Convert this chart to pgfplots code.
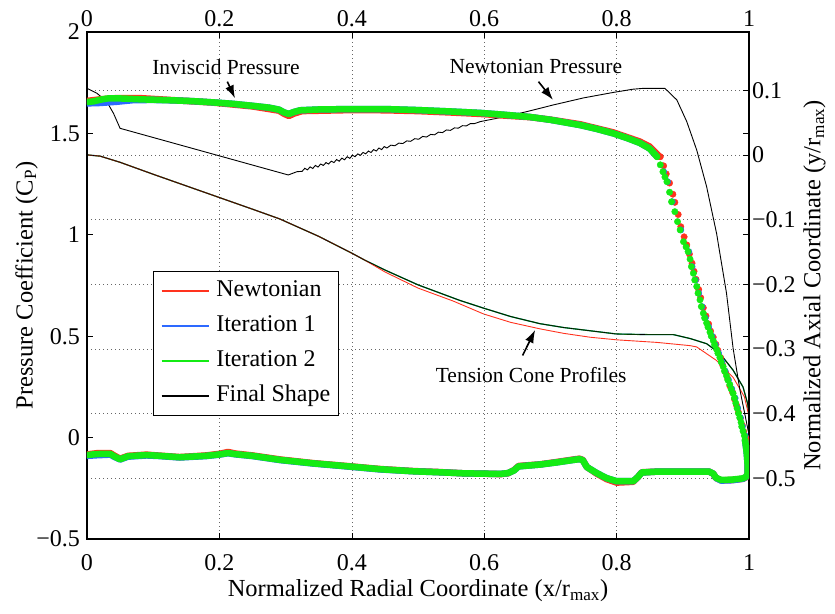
\documentclass[border=0pt]{standalone}
\usepackage{fontspec}
\setmainfont{Liberation Serif}
\usepackage{pgfplots}
\pgfplotsset{compat=1.18}
\usetikzlibrary{arrows.meta}

\definecolor{newt}{RGB}{255,50,30}
\definecolor{itone}{RGB}{45,105,255}
\definecolor{ittwo}{RGB}{20,235,20}

\pgfplotsset{
  common/.style={
    scale only axis, width=662pt, height=507pt,
    xmin=0, xmax=1,
    xtick={0,0.2,0.4,0.6,0.8,1}, xticklabels={0,0.2,0.4,0.6,0.8,1},
    tick align=inside, major tick length=6pt,
    tick style={black, line width=0.6pt},
    axis line style={line width=1.2pt},
    ticklabel style={font=\fontsize{24}{24}\selectfont, inner sep=0pt},
    label style={font=\fontsize{24.5}{26}\selectfont},
    grid style={black!60, line width=0.6pt, dash pattern=on 0.6pt off 3.4pt},
  },
  band/.style={no markers, line width=6.5pt, line join=round, line cap=round, forget plot},
  dots/.style={only marks, mark=*, mark size=3.2pt, mark options={draw=none}, forget plot},
}
\tikzset{
  annot/.style={font=\fontsize{21.5}{22}\selectfont},
  pointer/.style={line width=1.6pt, -{Latex[length=13pt,width=9pt]}},
}

\begin{document}
\begin{tikzpicture}
\useasboundingbox (-87pt,-74pt) rectangle (748pt,539pt);

% ---------- axial coordinate axis: tension cone profiles ----------
\begin{axis}[common,
  ymin=-0.594, ymax=0.19,
  axis x line*=top, axis y line*=right,
  ytick={-0.5,-0.4,-0.3,-0.2,-0.1,0,0.1},
  yticklabels={−0.5,−0.4,−0.3,−0.2,−0.1,0,0.1},
  ymajorgrids,
  yticklabel style={anchor=west, xshift=3pt},
  xticklabel style={anchor=base, yshift=5pt},
  ylabel={Normalized Axial Coordinate (y/r\textsubscript{max})},
  ylabel style={at={(axis description cs:1.099,0.5)}, anchor=center},
]
% Iteration 1
\addplot[itone, line width=1.1pt, forget plot] coordinates {
(0.000,0.000) (0.020,-0.002) (0.050,-0.0115) (0.100,-0.030) (0.150,-0.048)
(0.200,-0.066) (0.250,-0.084) (0.291,-0.099) (0.350,-0.126) (0.400,-0.152)
(0.420,-0.163) (0.450,-0.178) (0.500,-0.201) (0.563,-0.225) (0.599,-0.237)
(0.640,-0.250) (0.684,-0.261) (0.720,-0.267) (0.760,-0.272) (0.800,-0.277)
(0.850,-0.278) (0.886,-0.278) (0.911,-0.284) (0.936,-0.292) (0.956,-0.307)
(0.976,-0.333) (0.991,-0.359) (0.998,-0.385) (1.000,-0.405)};
% Iteration 2
\addplot[ittwo!70!black, line width=1.2pt, forget plot] coordinates {
(0.000,0.000) (0.020,-0.002) (0.050,-0.0115) (0.100,-0.030) (0.150,-0.048)
(0.200,-0.066) (0.250,-0.084) (0.291,-0.099) (0.350,-0.126) (0.400,-0.152)
(0.420,-0.163) (0.450,-0.178) (0.500,-0.201) (0.563,-0.225) (0.599,-0.237)
(0.640,-0.250) (0.684,-0.261) (0.720,-0.267) (0.760,-0.272) (0.800,-0.277)
(0.850,-0.278) (0.886,-0.278) (0.911,-0.284) (0.936,-0.292) (0.956,-0.307)
(0.976,-0.333) (0.991,-0.359) (0.998,-0.385) (1.000,-0.405)};
% Newtonian
\addplot[newt, line width=0.9pt, forget plot] coordinates {
(0.000,0.000) (0.020,-0.002) (0.050,-0.0115) (0.100,-0.030) (0.150,-0.048)
(0.200,-0.066) (0.250,-0.084) (0.291,-0.099) (0.350,-0.126) (0.400,-0.152)
(0.420,-0.163) (0.450,-0.181) (0.500,-0.206) (0.553,-0.226) (0.599,-0.246)
(0.640,-0.259) (0.684,-0.269) (0.720,-0.276) (0.760,-0.282) (0.800,-0.286)
(0.861,-0.290) (0.911,-0.295) (0.921,-0.297) (0.951,-0.318) (0.976,-0.344)
(0.993,-0.374) (0.999,-0.400) (1.000,-0.410)};
% Final shape
\addplot[black, line width=0.6pt, forget plot] coordinates {
(0.000,0.000) (0.020,-0.002) (0.050,-0.0115) (0.100,-0.030) (0.150,-0.048)
(0.200,-0.066) (0.250,-0.084) (0.291,-0.099) (0.350,-0.126) (0.400,-0.152)
(0.420,-0.163) (0.450,-0.178) (0.500,-0.201) (0.563,-0.225) (0.599,-0.237)
(0.640,-0.250) (0.684,-0.261) (0.720,-0.267) (0.760,-0.272) (0.800,-0.277)
(0.850,-0.278) (0.886,-0.278) (0.911,-0.284) (0.936,-0.292) (0.956,-0.307)
(0.976,-0.333) (0.991,-0.359) (0.998,-0.385) (1.000,-0.405)};
\end{axis}

% ---------- pressure coefficient axis ----------
\begin{axis}[common,
  ymin=-0.5, ymax=2,
  ytick={-0.5,0,0.5,1,1.5,2}, yticklabels={−0.5,0,0.5,1,1.5,2},
  xmajorgrids,
  yticklabel style={anchor=east, xshift=-7pt},
  xticklabel style={anchor=base, yshift=-31pt},
  xlabel={Normalized Radial Coordinate (x/r\textsubscript{max})},
  xlabel style={at={(axis description cs:0.5,-0.1144)}, anchor=base},
  ylabel={Pressure Coefficient (C\textsubscript{P})},
  ylabel style={at={(axis description cs:-0.0914,0.5)}, anchor=center},
  legend style={at={(0.0992,0.5286)}, anchor=north west, draw=black,
    line width=0.8pt, fill=white, inner xsep=8pt, inner ysep=8pt,
    font=\fontsize{24}{24}\selectfont, row sep=12pt,
    nodes={inner sep=0pt, text height=17pt, text depth=6pt},
    /tikz/every odd column/.append style={column sep=7pt}},
  legend cell align=left,
  legend image code/.code={\draw[#1, line width=1.2pt] (0pt,0pt) -- (47pt,0pt);},
]
\addlegendimage{newt}\addlegendentry{Newtonian}
\addlegendimage{itone}\addlegendentry{Iteration 1}
\addlegendimage{ittwo}\addlegendentry{Iteration 2}
\addlegendimage{black}\addlegendentry{Final Shape}

% Newtonian pressure distribution
\addplot[black, line width=0.9pt, forget plot] coordinates {
(0.000,1.722) (0.015,1.698) (0.030,1.656) (0.040,1.599) (0.050,1.525)
(0.304,1.295) (0.317,1.311)
(0.325,1.313) (0.329,1.328) (0.333,1.320) (0.337,1.335) (0.341,1.327)
(0.345,1.342) (0.349,1.334) (0.353,1.349) (0.357,1.342) (0.361,1.356)
(0.365,1.349) (0.369,1.363) (0.373,1.356) (0.377,1.371) (0.381,1.363)
(0.385,1.378) (0.389,1.370) (0.393,1.385) (0.397,1.377) (0.401,1.392)
(0.405,1.385) (0.409,1.399) (0.413,1.392) (0.417,1.406) (0.421,1.399)
(0.425,1.413) (0.429,1.406) (0.433,1.420) (0.437,1.413) (0.441,1.428)
(0.445,1.420) (0.449,1.435) (0.453,1.428) (0.459,1.442) (0.465,1.439)
(0.471,1.452) (0.477,1.450) (0.483,1.463) (0.489,1.461) (0.495,1.474)
(0.501,1.471) (0.507,1.485) (0.513,1.482) (0.519,1.495) (0.525,1.493)
(0.531,1.506) (0.537,1.504) (0.543,1.517) (0.549,1.515) (0.555,1.527)
(0.561,1.526) (0.567,1.538) (0.573,1.537) (0.579,1.548) (0.585,1.548)
(0.594,1.558) (0.620,1.575) (0.664,1.607) (0.704,1.640) (0.750,1.675)
(0.795,1.702) (0.825,1.718) (0.840,1.722) (0.873,1.722) (0.891,1.665)
(0.906,1.558) (0.921,1.418) (0.936,1.237) (0.951,1.007) (0.966,0.712)
(0.976,0.440) (0.986,0.240) (0.999,0.030)};

% ---- Newtonian (red) ----
\addplot[newt, band] coordinates {
(0.000,1.660) (0.020,1.668) (0.045,1.674) (0.080,1.674) (0.100,1.670)
(0.130,1.664) (0.190,1.652) (0.250,1.633) (0.290,1.612) (0.298,1.596)
(0.305,1.586) (0.313,1.598) (0.325,1.610) (0.400,1.615) (0.450,1.614)
(0.500,1.610) (0.550,1.603) (0.594,1.596) (0.630,1.588) (0.669,1.580)
(0.700,1.568) (0.745,1.545) (0.795,1.505) (0.835,1.460) (0.850,1.435)
(0.865,1.385)};
\addplot[newt, dots] coordinates {
(0.866,1.385) (0.871,1.340) (0.875,1.300) (0.880,1.255) (0.885,1.200)
(0.888,1.160) (0.893,1.100) (0.897,1.040) (0.902,0.990) (0.906,0.950)
(0.910,0.905) (0.914,0.860) (0.917,0.820) (0.920,0.780) (0.924,0.730)
(0.927,0.690) (0.931,0.640) (0.935,0.600) (0.939,0.560) (0.942,0.525)
(0.946,0.495) (0.950,0.460) (0.953,0.430) (0.957,0.395) (0.960,0.360)
(0.964,0.325) (0.968,0.290) (0.971,0.255) (0.975,0.225) (0.978,0.190)
(0.981,0.160) (0.984,0.125) (0.987,0.095) (0.990,0.060) (0.992,0.030)
(0.995,0.000)};
\addplot[newt, band] coordinates {
(0.995,0.000) (0.997,-0.060) (0.998,-0.100) (0.998,-0.150) (0.998,-0.180)
(0.996,-0.195) (0.991,-0.203) (0.975,-0.209) (0.958,-0.211) (0.950,-0.199)
(0.946,-0.178) (0.940,-0.168) (0.900,-0.168) (0.860,-0.168) (0.838,-0.171)
(0.832,-0.195) (0.825,-0.218) (0.800,-0.222) (0.785,-0.205) (0.770,-0.178)
(0.755,-0.145) (0.749,-0.110) (0.744,-0.104) (0.735,-0.108) (0.710,-0.120)
(0.684,-0.132) (0.652,-0.140) (0.645,-0.160) (0.636,-0.176) (0.625,-0.180)
(0.600,-0.178) (0.568,-0.176) (0.533,-0.170) (0.493,-0.165) (0.443,-0.155)
(0.392,-0.140) (0.342,-0.126) (0.292,-0.108) (0.250,-0.088) (0.225,-0.079)
(0.213,-0.071) (0.200,-0.080) (0.180,-0.088) (0.140,-0.096) (0.110,-0.089)
(0.090,-0.084) (0.062,-0.090) (0.050,-0.104) (0.042,-0.090) (0.035,-0.076)
(0.015,-0.077) (0.000,-0.083)};

% ---- Iteration 1 (blue) ----
\addplot[itone, band] coordinates {
(0.000,1.648) (0.020,1.650) (0.045,1.656) (0.070,1.664) (0.100,1.665)
(0.130,1.663) (0.160,1.659) (0.190,1.653) (0.220,1.646) (0.250,1.636)
(0.275,1.627) (0.290,1.617) (0.298,1.603) (0.305,1.596) (0.312,1.605)
(0.322,1.614) (0.350,1.618) (0.400,1.620) (0.450,1.620) (0.500,1.615)
(0.550,1.608) (0.594,1.601) (0.630,1.592) (0.669,1.581) (0.700,1.567)
(0.745,1.541) (0.770,1.522) (0.795,1.500) (0.815,1.478) (0.835,1.453)
(0.850,1.425) (0.861,1.385)};
\addplot[itone, dots] coordinates {
(0.871,1.311) (0.877,1.262) (0.884,1.163) (0.897,1.024) (0.909,0.917)
(0.914,0.843) (0.919,0.777) (0.924,0.712) (0.929,0.646) (0.934,0.590)
(0.939,0.545) (0.944,0.500) (0.949,0.458) (0.954,0.416) (0.959,0.373)
(0.964,0.328) (0.969,0.284) (0.974,0.240) (0.979,0.195) (0.983,0.145)
(0.987,0.098) (0.990,0.054) (0.994,0.010)};
\addplot[itone, band] coordinates {
(0.994,-0.012) (0.996,-0.060) (0.997,-0.094) (0.998,-0.140) (0.998,-0.176)
(0.996,-0.193) (0.991,-0.203) (0.975,-0.210) (0.958,-0.212) (0.950,-0.199)
(0.946,-0.178) (0.940,-0.168) (0.900,-0.168) (0.860,-0.168) (0.838,-0.172)
(0.832,-0.195) (0.825,-0.215) (0.800,-0.215) (0.785,-0.200) (0.770,-0.175)
(0.755,-0.145) (0.749,-0.112) (0.744,-0.106) (0.735,-0.110) (0.710,-0.122)
(0.684,-0.133) (0.652,-0.142) (0.645,-0.162) (0.636,-0.175) (0.625,-0.179)
(0.600,-0.178) (0.568,-0.176) (0.533,-0.171) (0.493,-0.166) (0.443,-0.157)
(0.392,-0.142) (0.342,-0.128) (0.292,-0.111) (0.250,-0.091) (0.225,-0.083)
(0.213,-0.077) (0.200,-0.084) (0.180,-0.091) (0.140,-0.098) (0.110,-0.091)
(0.090,-0.088) (0.062,-0.094) (0.050,-0.108) (0.042,-0.096) (0.035,-0.084)
(0.015,-0.087) (0.000,-0.090)};

% ---- Iteration 2 (green) ----
\addplot[ittwo, band] coordinates {
(0.000,1.655) (0.010,1.658) (0.020,1.666) (0.030,1.672) (0.045,1.673)
(0.060,1.671) (0.080,1.668) (0.100,1.666) (0.130,1.663) (0.160,1.659)
(0.190,1.653) (0.220,1.646) (0.250,1.636) (0.275,1.627) (0.290,1.617)
(0.298,1.603) (0.305,1.596) (0.312,1.605) (0.322,1.614) (0.350,1.618)
(0.400,1.620) (0.450,1.620) (0.500,1.615) (0.550,1.608) (0.594,1.601)
(0.630,1.592) (0.669,1.581) (0.700,1.567) (0.745,1.541) (0.770,1.522)
(0.795,1.500) (0.815,1.478) (0.835,1.453) (0.850,1.425) (0.861,1.385)};
\addplot[ittwo, dots] coordinates {
(0.861,1.385) (0.866,1.345) (0.870,1.311) (0.873,1.285) (0.876,1.262)
(0.880,1.210) (0.883,1.163) (0.888,1.114) (0.892,1.065) (0.896,1.024)
(0.901,0.966) (0.905,0.940) (0.908,0.917) (0.911,0.880) (0.913,0.843)
(0.916,0.810) (0.918,0.777) (0.921,0.745) (0.923,0.712) (0.926,0.679)
(0.928,0.646) (0.931,0.613) (0.933,0.590) (0.936,0.565) (0.938,0.545)
(0.941,0.520) (0.943,0.500) (0.946,0.478) (0.948,0.458) (0.951,0.435)
(0.953,0.416) (0.956,0.395) (0.958,0.373) (0.961,0.350) (0.963,0.328)
(0.966,0.305) (0.968,0.284) (0.971,0.262) (0.973,0.240) (0.976,0.218)
(0.978,0.195) (0.980,0.170) (0.982,0.145) (0.984,0.120) (0.986,0.098)
(0.988,0.075) (0.989,0.054) (0.991,0.032) (0.993,0.010) (0.994,-0.012)};
\addplot[ittwo, band] coordinates {
(0.994,-0.012) (0.996,-0.060) (0.997,-0.094) (0.998,-0.140) (0.998,-0.176)
(0.996,-0.192) (0.991,-0.201) (0.975,-0.207) (0.958,-0.209) (0.950,-0.198)
(0.946,-0.178) (0.940,-0.168) (0.900,-0.168) (0.860,-0.168) (0.838,-0.172)
(0.832,-0.195) (0.825,-0.215) (0.800,-0.215) (0.785,-0.200) (0.770,-0.175)
(0.755,-0.145) (0.749,-0.112) (0.744,-0.106) (0.735,-0.110) (0.710,-0.122)
(0.684,-0.133) (0.652,-0.142) (0.645,-0.162) (0.636,-0.175) (0.625,-0.179)
(0.600,-0.178) (0.568,-0.176) (0.533,-0.171) (0.493,-0.166) (0.443,-0.156)
(0.392,-0.141) (0.342,-0.127) (0.292,-0.110) (0.250,-0.090) (0.225,-0.082)
(0.213,-0.076) (0.200,-0.083) (0.180,-0.090) (0.140,-0.097) (0.110,-0.090)
(0.090,-0.086) (0.062,-0.092) (0.050,-0.107) (0.042,-0.094) (0.035,-0.080)
(0.015,-0.081) (0.000,-0.086)};

% annotations
\node[annot] at (axis cs:0.210,1.829) {Inviscid Pressure};
\draw[pointer] (axis cs:0.2120,1.755) -- (axis cs:0.2236,1.673);
\node[annot] at (axis cs:0.678,1.829) {Newtonian Pressure};
\draw[pointer] (axis cs:0.682,1.755) -- (axis cs:0.704,1.665);
\node[annot] at (axis cs:0.671,0.309) {Tension Cone Profiles};
\draw[pointer] (axis cs:0.658,0.405) -- (axis cs:0.677,0.531);
\end{axis}
\end{tikzpicture}
\end{document}
